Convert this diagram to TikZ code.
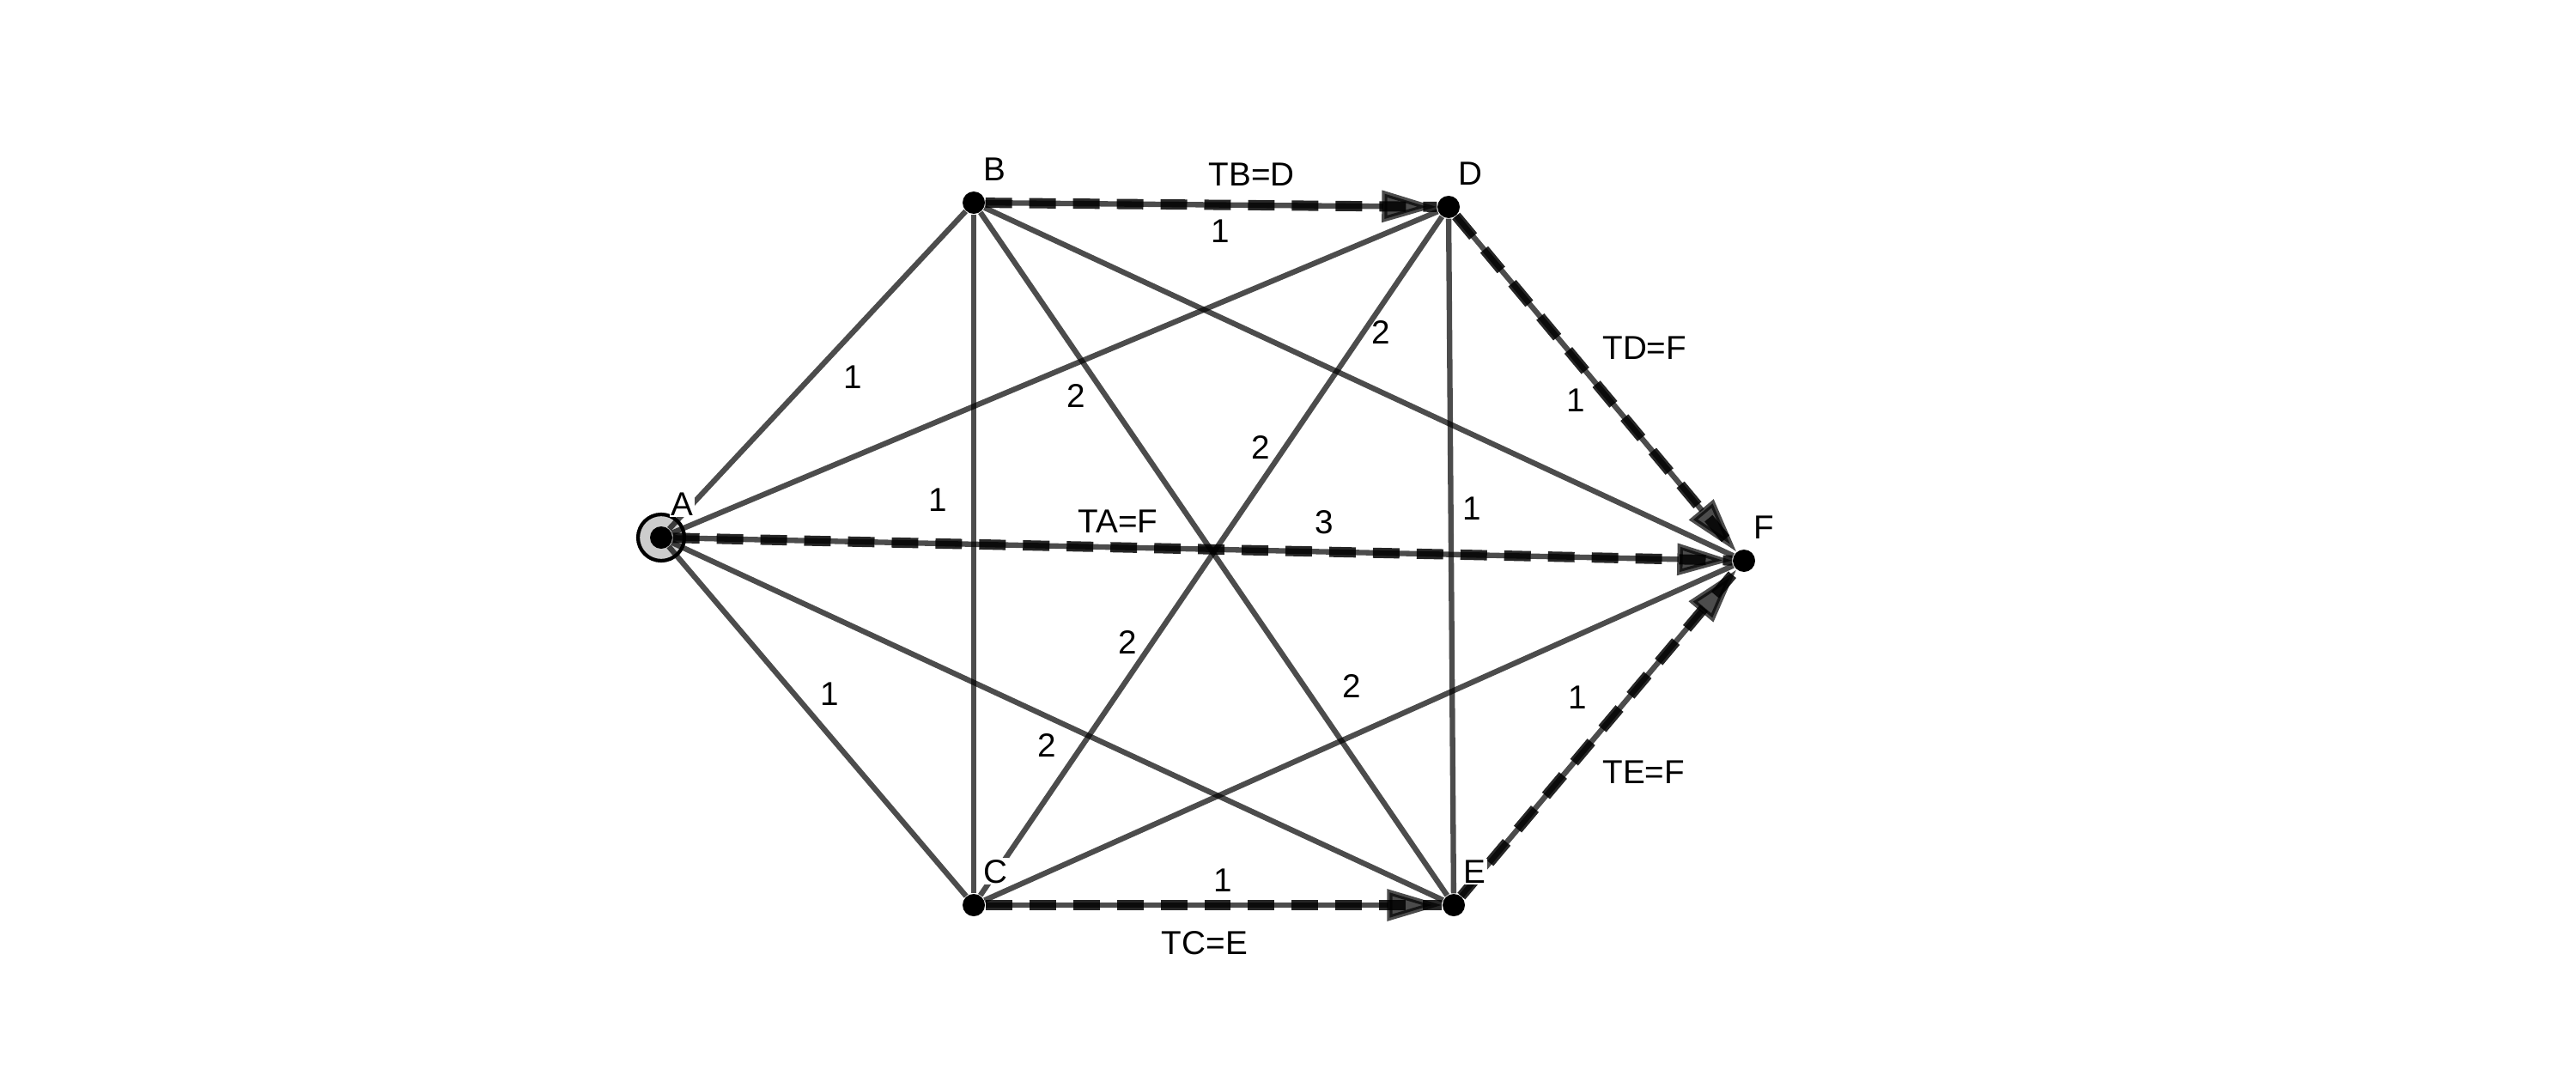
\documentclass[tikz,border=0pt]{standalone}
\usepackage{fontspec}
\setmainfont{Liberation Sans}
\usetikzlibrary{arrows.meta, backgrounds}

\tikzset{
  vtx/.style={circle, fill=black, inner sep=0pt, minimum size=0.26cm},
  lettr/.style={fill=white, inner sep=0.5pt, yshift=3pt, xshift=1pt, font=\fontsize{11}{13}\selectfont},
  wt/.style={inner sep=2pt, opacity=1, font=\fontsize{11}{13}\selectfont},
  link/.style={draw=black, opacity=0.7, line width=1.8pt},
  trarc/.style={link, -{Triangle[length=0.64cm, width=0.36cm]}},
  tdash/.style={draw=black, opacity=0.85, line width=3.4pt, dash pattern=on 8.8pt off 5.7pt},
}

\begin{document}
\begin{tikzpicture}
    \useasboundingbox (0,0) rectangle (30,12.66);
    % Define nodes
    \node[vtx, label={[lettr]65:A}] (A) at (7.70,6.40) {};
    \node[vtx, label={[lettr]65:B}] (B) at (11.34,10.30) {};
    \node[vtx, label={[lettr]65:C}] (C) at (11.34,2.12) {};
    \node[vtx, label={[lettr]65:D}] (D) at (16.87,10.25) {};
    \node[vtx, label={[lettr]65:E}] (E) at (16.93,2.12) {};
    \node[vtx, label={[lettr]65:F}] (F) at (20.31,6.13) {};

    \begin{scope}[on background layer]
    % source ring
    \filldraw[fill=black!20, line width=1.2pt] (A) circle (0.27);
    % Draw edges
    \draw[link] (A) -- node[wt, pos=0.55, below right=1pt] {1} (B);
    \draw[link] (A) -- node[wt, pos=0.48, above right] {1} (C);
    \draw[link] (A) -- node[wt, pos=0.5, below right=1pt] {2} (D);
    \draw[link] (A) -- node[wt, pos=0.51, below left] {2} (E);
    \draw[link] (B) -- node[wt, pos=0.42, left=6pt] {1} (C);
    \draw[link] (B) -- node[wt, pos=0.63, xshift=-1.71cm] {2} (E);
    \draw[link] (B) -- node[wt, pos=0.53, above=13pt] {2} (F);
    \draw[link] (D) -- node[wt, pos=0.34, left=2pt] {2} (C);
    \draw[link] (D) -- node[wt, pos=0.43, right=1pt] {1} (E);
    \draw[link] (C) -- node[wt, pos=0.49, above=10pt] {2} (F);
    % Draw tree arcs
    \draw[trarc] (A) -- node[wt, pos=0.42, above=2pt] {TA=F} node[wt, pos=0.615, above=3pt] {3} (F);
    \draw[trarc] (B) -- node[wt, pos=0.52, below=2pt] {1} node[wt, pos=0.59, above=3.5pt] {TB=D} (D);
    \draw[trarc] (C) -- node[wt, pos=0.52, above=1.5pt] {1} node[wt, pos=0.48, below=5.7pt] {TC=E} (E);
    \draw[trarc] (D) -- node[wt, pos=0.49, below left] {1} node[wt, pos=0.47, above right=2pt] {TD=F} (F);
    \draw[trarc] (E) -- node[wt, pos=0.52, above left=3pt] {1} node[wt, pos=0.46, below right=2pt] {TE=F} (F);
    \draw[tdash] (A) -- (F);
    \draw[tdash] (B) -- (D);
    \draw[tdash] (C) -- (E);
    \draw[tdash] (D) -- (F);
    \draw[tdash] (E) -- (F);
    \end{scope}

\end{tikzpicture}
\end{document}
